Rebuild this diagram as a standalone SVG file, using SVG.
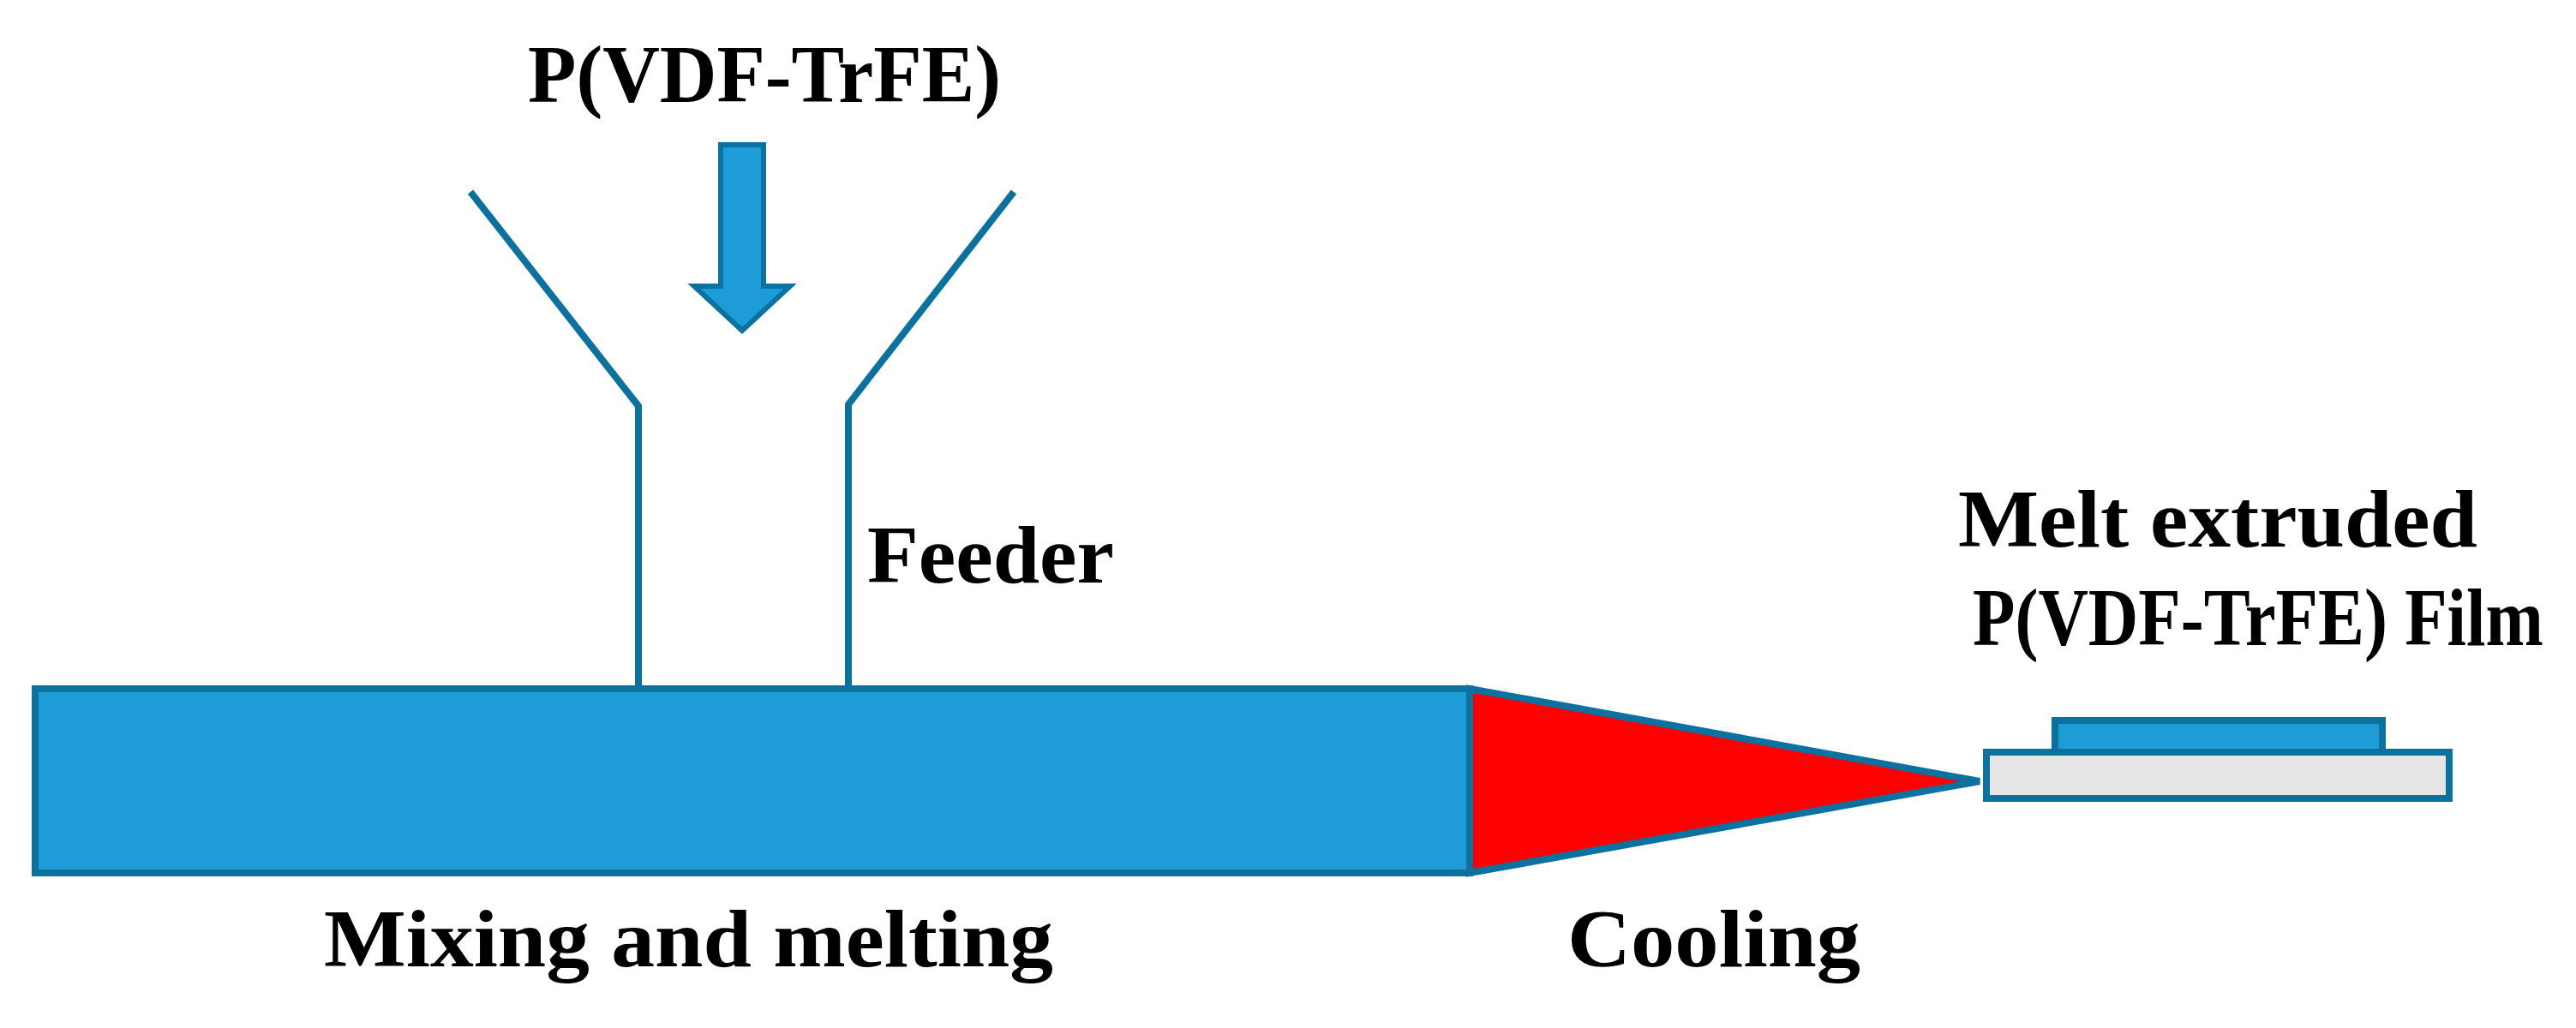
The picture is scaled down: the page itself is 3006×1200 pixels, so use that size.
<svg xmlns="http://www.w3.org/2000/svg" width="3006" height="1200" viewBox="0 0 3006 1200">
<style>
.lbl{font-family:"Liberation Serif","Times New Roman",serif;font-weight:bold;font-size:96px;fill:#000}
.ln{fill:none;stroke:#0B72A0;stroke-width:8}
.blue{fill:#1E9CD7;stroke:#0B72A0;stroke-width:8}
</style>
<rect width="3006" height="1200" fill="#fff"/>
<g id="feeder">
<polyline class="ln" points="549,224 745,474 745,806"/>
<polyline class="ln" points="1183,224 990,472 990,806"/>
<text class="lbl" x="1012" y="680" textLength="288" lengthAdjust="spacingAndGlyphs">Feeder</text>
</g>
<g id="input">
<text class="lbl" x="616" y="119" textLength="552" lengthAdjust="spacingAndGlyphs">P(VDF-TrFE)</text>
</g>
<g id="connectors">
<polygon points="841,169 891,169 891,334 922,334 866,386 810,334 841,334" fill="#1E9CD7" stroke="#0B72A0" stroke-width="6"/>
</g>
<g id="mixer">
<rect class="blue" x="41" y="804" width="1674" height="215"/>
<text class="lbl" x="378" y="1128" textLength="851" lengthAdjust="spacingAndGlyphs">Mixing and melting</text>
</g>
<g id="cooling">
<polygon points="1715,804 2310,912 1715,1019" fill="#FF0000" stroke="#0B72A0" stroke-width="8"/>
<text class="lbl" x="1829" y="1128" textLength="342" lengthAdjust="spacingAndGlyphs">Cooling</text>
</g>
<g id="film">
<rect class="blue" x="2398" y="841" width="382" height="37"/>
<rect x="2318" y="878" width="540" height="54" fill="#E6E6E6" stroke="#0B72A0" stroke-width="8"/>
<text class="lbl" x="2285" y="638" textLength="606" lengthAdjust="spacingAndGlyphs">Melt extruded</text>
<text class="lbl" x="2302" y="753" textLength="666" lengthAdjust="spacingAndGlyphs">P(VDF-TrFE) Film</text>
</g>
</svg>
